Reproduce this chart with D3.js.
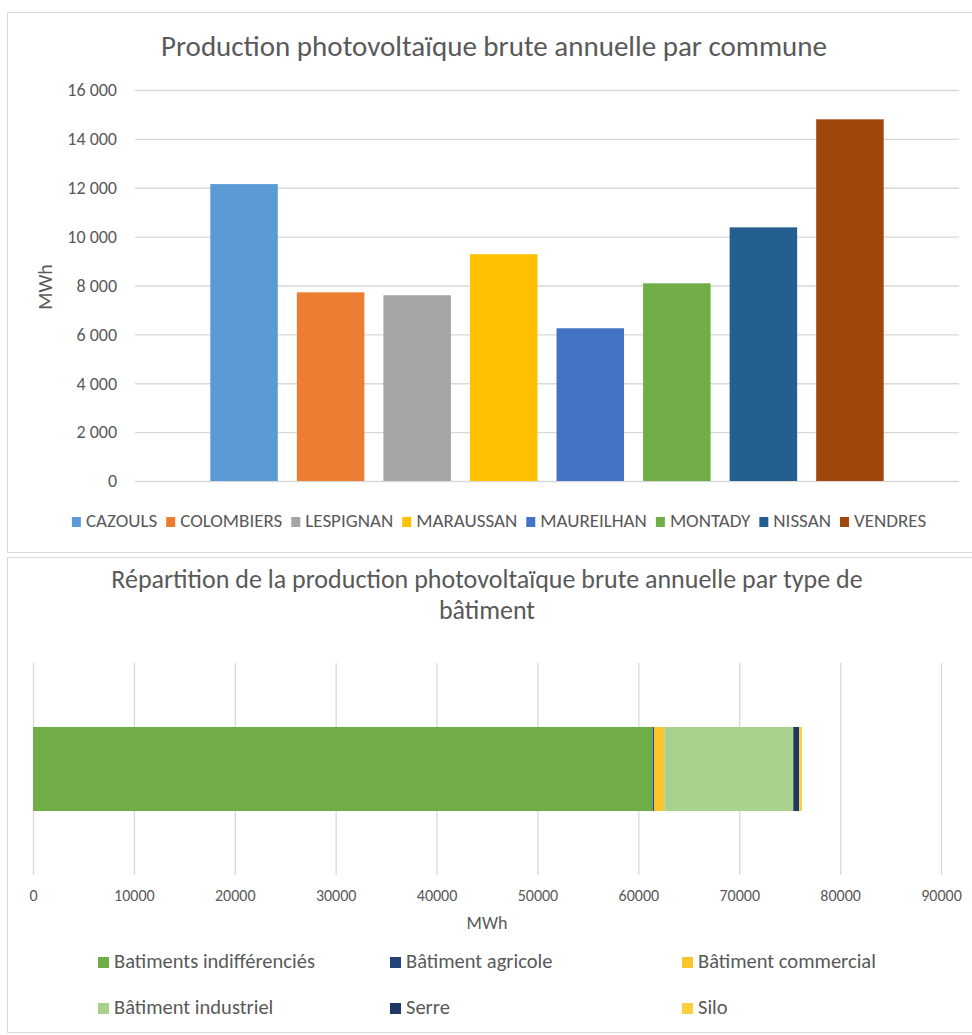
<!DOCTYPE html>
<html lang="fr">
<head>
<meta charset="UTF-8">
<title>Production photovoltaïque</title>
<style>
  body { margin: 0; background: #fff; }
  svg { display: block; }
  text { font-family: "Carlito", "Open Sans", sans-serif; fill: #595959; }
</style>
</head>
<body>
<div class="chart"></div>
<script src="https://d3js.org/d3.v7.min.js"></script>
<script>
// graphique 1 : production par commune
const communes = ["CAZOULS", "COLOMBIERS", "LESPIGNAN", "MARAUSSAN", "MAUREILHAN", "MONTADY", "NISSAN", "VENDRES"];
const production = [12150, 7720, 7600, 9280, 6250, 8090, 10380, 14800];
const communeColors = ["#5B9BD5", "#ED7D31", "#A5A5A5", "#FFC000", "#4472C4", "#70AD47", "#255E91", "#9E480E"];
const yTicks = [0, 2000, 4000, 6000, 8000, 10000, 12000, 14000, 16000];

// graphique 2 : production par type de bâtiment
const buildingTypes = ["Batiments indifférenciés", "Bâtiment agricole", "Bâtiment commercial", "Bâtiment industriel", "Serre", "Silo"];
const buildingProduction = [61420, 130, 1020, 12790, 590, 270];
const buildingColors = ["#70AD47", "#264478", "#F8C52C", "#A9D18E", "#203864", "#FFCF40"];
const xTicks = [0, 10000, 20000, 30000, 40000, 50000, 60000, 70000, 80000, 90000];

const width = 972, height = 1035;
const fr = d3.formatLocale({decimal: ",", thousands: "\u202F", grouping: [3], currency: ["", " €"]});
const fmt = fr.format(",");

const svg = d3.select('.chart')
  .append('svg')
  .attr('width', width)
  .attr('height', height);

svg.append('rect').attr('width', width).attr('height', height).attr('fill', '#fff');

// cadres
svg.append('rect')
  .attr('x', 7.5).attr('y', 12.5).attr('width', 975).attr('height', 540)
  .attr('fill', 'none').attr('stroke', '#d9d9d9');
svg.append('rect')
  .attr('x', 7.5).attr('y', 557.5).attr('width', 975).attr('height', 475)
  .attr('fill', 'none').attr('stroke', '#d9d9d9');

// ---------- graphique 1 ----------
const plot1 = {left: 135, right: 959, top: 90, bottom: 481};

svg.append('text')
  .attr('x', 494).attr('y', 49)
  .attr('text-anchor', 'middle')
  .attr('dominant-baseline', 'middle')
  .style('font-size', '29px')
  .text('Production photovoltaïque brute annuelle par commune');

const yScale = d3.scaleLinear()
  .domain([0, 16000])
  .range([plot1.bottom, plot1.top]);

const yAxis = d3.axisLeft(yScale)
  .tickValues(yTicks)
  .tickFormat(fmt)
  .tickSize(-(plot1.right - plot1.left))
  .tickPadding(18);

const yAxisGroup = svg.append('g')
  .attr('transform', `translate(${plot1.left},0)`)
  .call(yAxis);
yAxisGroup.select('.domain').remove();
yAxisGroup.selectAll('line').attr('stroke', '#d9d9d9').attr('stroke-width', 1.3);
yAxisGroup.selectAll('text')
  .attr('fill', '#595959')
  .style('font-size', '18px')
  .style('font-family', '"Carlito", "Open Sans", sans-serif');

svg.append('text')
  .attr('transform', 'translate(47,287) rotate(-90)')
  .attr('text-anchor', 'middle')
  .attr('dominant-baseline', 'middle')
  .style('font-size', '20px')
  .text('MWh');

// une seule catégorie, une série par commune
const xSeries = d3.scaleBand()
  .domain(communes)
  .range([plot1.left, plot1.right])
  .paddingInner(0.22)
  .paddingOuter(0.87);

svg.append('g')
  .selectAll('rect')
  .data(communes)
  .join('rect')
  .attr('x', d => xSeries(d))
  .attr('width', xSeries.bandwidth())
  .attr('y', (d, i) => yScale(production[i]))
  .attr('height', (d, i) => yScale(0) - yScale(production[i]))
  .attr('fill', (d, i) => communeColors[i]);

// légende 1
const legend1 = svg.append('g');
let lx = 0;
communes.forEach((c, i) => {
  const item = legend1.append('g').attr('transform', `translate(${lx},0)`);
  item.append('rect').attr('x', 0).attr('y', -5).attr('width', 9).attr('height', 10).attr('fill', communeColors[i]);
  const t = item.append('text')
    .attr('x', 14).attr('y', 0)
    .attr('dominant-baseline', 'middle')
    .style('font-size', '19px')
    .text(c);
  lx += 14 + t.node().getComputedTextLength() + 9;
});
legend1.attr('transform', `translate(${499 - (lx - 9) / 2},522)`);

// ---------- graphique 2 ----------
const plot2 = {left: 33, right: 941, top: 663, bottom: 875};

svg.append('text')
  .attr('x', 487).attr('y', 582)
  .attr('text-anchor', 'middle')
  .attr('dominant-baseline', 'middle')
  .style('font-size', '26px')
  .text('Répartition de la production photovoltaïque brute annuelle par type de');
svg.append('text')
  .attr('x', 487).attr('y', 613)
  .attr('text-anchor', 'middle')
  .attr('dominant-baseline', 'middle')
  .style('font-size', '26px')
  .text('bâtiment');

const xScale = d3.scaleLinear()
  .domain([0, 90000])
  .range([plot2.left, plot2.right]);

const xAxis = d3.axisBottom(xScale)
  .tickValues(xTicks)
  .tickFormat(d3.format('d'))
  .tickSize(-(plot2.bottom - plot2.top))
  .tickPadding(15);

const xAxisGroup = svg.append('g')
  .attr('transform', `translate(0,${plot2.bottom})`)
  .call(xAxis);
xAxisGroup.select('.domain').remove();
xAxisGroup.selectAll('line').attr('stroke', '#d9d9d9').attr('stroke-width', 1.3);
xAxisGroup.selectAll('text')
  .attr('fill', '#595959')
  .style('font-size', '16px')
  .style('font-family', '"Carlito", "Open Sans", sans-serif');

svg.append('text')
  .attr('x', 487).attr('y', 925)
  .attr('text-anchor', 'middle')
  .attr('dominant-baseline', 'middle')
  .style('font-size', '18px')
  .text('MWh');

const yBand = d3.scaleBand()
  .domain(['total'])
  .range([plot2.top, plot2.bottom])
  .padding(0.432);

const stacked = d3.stack().keys(buildingTypes)([
  Object.fromEntries(buildingTypes.map((k, i) => [k, buildingProduction[i]]))
]);

svg.append('g')
  .selectAll('rect')
  .data(stacked)
  .join('rect')
  .attr('x', d => xScale(d[0][0]))
  .attr('width', d => xScale(d[0][1]) - xScale(d[0][0]))
  .attr('y', yBand('total'))
  .attr('height', yBand.bandwidth())
  .attr('fill', (d, i) => buildingColors[i]);

// légende 2 : 3 colonnes, 2 lignes
const colX = [98, 390, 682];
const rowY = [963, 1009];
buildingTypes.forEach((b, i) => {
  const gx = colX[i % 3], gy = rowY[Math.floor(i / 3)];
  svg.append('rect').attr('x', gx).attr('y', gy - 6).attr('width', 11).attr('height', 11).attr('fill', buildingColors[i]);
  svg.append('text')
    .attr('x', gx + 16).attr('y', gy)
    .attr('dominant-baseline', 'middle')
    .style('font-size', '20.5px')
    .text(b);
});
</script>
</body>
</html>
